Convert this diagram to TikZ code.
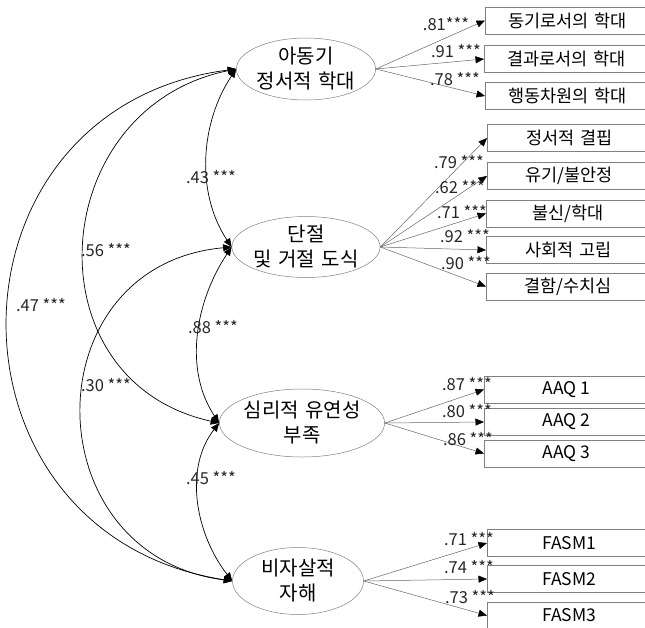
\documentclass[tikz,border=0pt]{standalone}
\usepackage{fontspec}
\setmainfont{Noto Sans CJK KR}
\usetikzlibrary{arrows.meta,shapes.geometric}
\newcommand\ksp{\hspace{0.32em}}
\begin{document}
\begin{tikzpicture}[x=1pt,y=-1pt,
  latent/.style={draw=black!50, line width=0.5pt, ellipse, inner sep=0pt, align=center, font=\fontsize{20}{25}\selectfont},
  obs/.style={draw=black!50, line width=0.6pt, rectangle, minimum width=164pt, minimum height=27pt, inner sep=0pt, font=\fontsize{17.5}{19}\selectfont},
  lab/.style={font=\fontsize{16.5}{18}\selectfont, inner sep=0pt, text=black!85},
  load/.style={draw=black!60, line width=0.5pt, -{Triangle[length=8.5pt,width=7pt,color=black]}},
  cov/.style={draw=black, line width=0.7pt, {Triangle[length=8.5pt,width=7pt]}-{Triangle[length=8.5pt,width=7pt]}},
]
\useasboundingbox (0,0) rectangle (645,627);
\clip (0,0) rectangle (645,627);

% latent variables
\node[latent, minimum width=132pt, minimum height=62pt] (e1) at (306,69) {아동기\\정서적\ksp 학대};
\node[latent, minimum width=132pt, minimum height=60pt] (e2) at (306,247) {단절\\및\ksp 거절\ksp 도식};
\node[latent, minimum width=131pt, minimum height=68pt] (e3) at (302,423) {심리적\ksp 유연성\\부족};
\node[latent, minimum width=131pt, minimum height=67pt] (e4) at (298,581) {비자살적\\자해};

% observed variables
\node[obs, anchor=west] (b1) at (485,20.5) {동기로서의\ksp 학대};
\node[obs, anchor=west] (b2) at (484,59) {결과로서의\ksp 학대};
\node[obs, anchor=west] (b3) at (485,96) {행동차원의\ksp 학대};
\node[obs, anchor=west] (c1) at (487,138) {정서적\ksp 결핍};
\node[obs, anchor=west] (c2) at (487,176) {유기/불안정};
\node[obs, anchor=west] (c3) at (486,213.5) {불신/학대};
\node[obs, anchor=west] (c4) at (486,250) {사회적\ksp 고립};
\node[obs, anchor=west] (c5) at (486,286.5) {결함/수치심};
\node[obs, anchor=west] (a1) at (484,389.5) {AAQ 1};
\node[obs, anchor=west] (a2) at (484,422) {AAQ 2};
\node[obs, anchor=west] (a3) at (484,453.5) {AAQ 3};
\node[obs, anchor=west] (f1) at (487,543) {FASM1};
\node[obs, anchor=west] (f2) at (487,579) {FASM2};
\node[obs, anchor=west] (f3) at (487,615.5) {FASM3};

% loadings
\draw[load] (e1.east) -- (b1.west);
\draw[load] (e1.east) -- (b2.west);
\draw[load] (e1.east) -- (b3.west);
\draw[load] (e2.east) -- (c1.west);
\draw[load] (e2.east) -- (c2.west);
\draw[load] (e2.east) -- (c3.west);
\draw[load] (e2.east) -- (c4.west);
\draw[load] (e2.east) -- (c5.west);
\draw[load] (e3.east) -- (a1.west);
\draw[load] (e3.east) -- (a2.west);
\draw[load] (e3.east) -- (a3.west);
\draw[load] (e4.east) -- (f1.west);
\draw[load] (e4.east) -- (f2.west);
\draw[load] (e4.east) -- (f3.west);

% covariances
\draw[cov] (e1.west) .. controls +(-36,54) and +(-36,-54) .. (e2.west);
\draw[cov] (e2.west) .. controls +(-36,54) and +(-36,-54) .. (e3.west);
\draw[cov] (e3.west) .. controls +(-36,46) and +(-36,-46) .. (e4.west);
\draw[cov] (e1.west) .. controls +(-191,39) and +(-191,-42) .. (e3.west);
\draw[cov] (e2.west) .. controls +(-200,18) and +(-200,-26) .. (e4.west);
\draw[cov] (e1.west) .. controls +(-302,39) and +(-301,-47) .. (e4.west);

% loading labels
\node[lab] (lb1) at (446,24) {.81***};
\node[lab] (lb2) at (456,51) {.91 ***};
\node[lab] (lb3) at (455,79) {.78 ***};
\node[lab] (lc1) at (459,162) {.79 ***};
\node[lab] (lc2) at (460,187) {.62 ***};
\node[lab] (lc3) at (462,212) {.71 ***};
\node[lab] (lc4) at (465,236) {.92 ***};
\node[lab] (lc5) at (466,263) {.90 ***};
\node[lab] (la1) at (467,384) {.87 ***};
\node[lab] (la2) at (467,411) {.80 ***};
\node[lab] (la3) at (468,439) {.86 ***};
\node[lab] (lf1) at (469,539) {.71 ***};
\node[lab] (lf2) at (469,567) {.74 ***};
\node[lab] (lf3) at (470,597) {.73 ***};

% covariance labels
\node[lab] (k12) at (211,177) {.43 ***};
\node[lab] (k23) at (213,327) {.88 ***};
\node[lab] (k34) at (211,478) {.45 ***};
\node[lab] (k13) at (106,250) {.56 ***};
\node[lab] (k24) at (106,385) {.30 ***};
\node[lab] (k14) at (41,305) {.47 ***};
\end{tikzpicture}
\end{document}
